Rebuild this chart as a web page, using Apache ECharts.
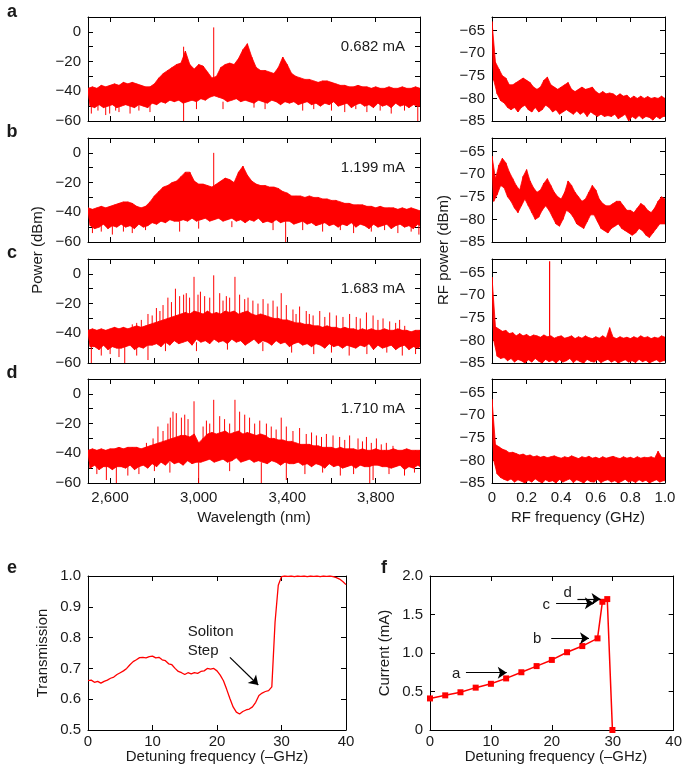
<!DOCTYPE html>
<html><head><meta charset="utf-8">
<script src="https://cdn.jsdelivr.net/npm/echarts@6/dist/echarts.min.js"></script>
<style>html,body{margin:0;padding:0;background:#fff}#c{width:685px;height:774px}</style>
</head><body><div id="c"></div>
<script>
// ---------- optical spectra (wavelength grid 2500..4000 nm, 20 nm) ----------
const WL_START = 2500, WL_STEP = 20;
const upperA = [-38,-37,-38,-36,-37,-36,-35,-36,-34,-35,
  -34,-35,-36,-37,-37,-35,-31,-28,-26,-24,
  -22,-21,-13,-22,-25,-22,-23,-27,-31,-30,
  -24,-22,-21,-22,-18,-12,-8,-17,-24,-26,
  -26,-27,-28,-24,-17,-22,-28,-30,-31,-32,
  -32,-33,-34,-33,-33,-34,-35,-36,-36,-37,
  -37,-36,-37,-37,-38,-37,-38,-38,-37,-38,
  -38,-37,-38,-38,-37,-38];
const lowerA = [-50,-51,-49,-51,-50,-49,-51,-50,-49,-50,
  -51,-49,-50,-51,-48,-49,-47,-48,-46,-47,
  -46,-48,-47,-46,-47,-45,-46,-44,-43,-44,
  -45,-47,-46,-45,-47,-46,-47,-48,-46,-47,
  -48,-46,-47,-49,-47,-48,-47,-49,-48,-47,
  -49,-48,-50,-48,-49,-47,-50,-49,-48,-51,
  -49,-48,-50,-49,-51,-48,-50,-49,-51,-48,
  -50,-49,-51,-49,-50,-50];
const upperB = [-37,-38,-37,-36,-37,-36,-35,-34,-33,-33,
  -34,-36,-37,-36,-33,-29,-26,-23,-22,-20,
  -19,-16,-13,-13,-19,-21,-21,-22,-23,-21,
  -19,-17,-18,-20,-13,-9,-15,-19,-21,-22,
  -22,-23,-23,-24,-26,-27,-29,-29,-29,-30,
  -29,-30,-30,-31,-31,-32,-32,-33,-34,-34,
  -35,-35,-35,-36,-36,-37,-36,-37,-37,-37,
  -38,-37,-38,-37,-38,-39];
const lowerB = [-49,-51,-50,-48,-51,-49,-50,-48,-50,-49,
  -51,-48,-50,-49,-47,-48,-46,-47,-45,-46,
  -46,-45,-46,-44,-46,-45,-44,-46,-45,-44,
  -46,-45,-44,-46,-45,-47,-45,-46,-44,-47,
  -46,-47,-45,-47,-46,-46,-48,-47,-46,-48,
  -47,-49,-48,-47,-49,-48,-50,-48,-49,-47,
  -50,-48,-49,-51,-48,-50,-49,-48,-51,-49,
  -48,-50,-49,-51,-48,-50];
const upperC = [-38,-37,-38,-37,-38,-37,-36,-37,-36,-37,
  -36,-35,-36,-35,-34,-33,-32,-31,-30,-29,
  -28,-27,-26,-27,-25,-26,-27,-25,-27,-26,
  -27,-25,-26,-25,-27,-26,-25,-27,-28,-27,
  -28,-29,-30,-30,-31,-31,-32,-33,-33,-34,
  -34,-35,-35,-36,-35,-36,-36,-37,-36,-37,
  -37,-38,-37,-38,-37,-38,-38,-37,-38,-38,
  -37,-38,-38,-39,-38,-38];
const lowerC = [-49,-49,-51,-48,-51,-49,-50,-50,-49,-48,
  -51,-49,-50,-48,-48,-47,-49,-46,-48,-45,
  -47,-46,-45,-48,-44,-46,-45,-47,-44,-46,
  -45,-47,-44,-46,-45,-48,-46,-44,-47,-45,
  -46,-48,-45,-47,-46,-49,-47,-46,-48,-47,
  -49,-47,-48,-50,-47,-49,-48,-50,-48,-49,
  -50,-48,-49,-47,-51,-48,-50,-49,-48,-51,
  -49,-48,-51,-49,-50,-48];
const upperD = [-38,-37,-38,-37,-38,-37,-37,-36,-37,-36,
  -36,-36,-37,-36,-35,-34,-33,-32,-31,-30,
  -29,-28,-28,-29,-27,-33,-30,-27,-26,-27,
  -26,-25,-27,-26,-25,-27,-26,-27,-28,-27,
  -28,-30,-30,-31,-31,-32,-32,-33,-34,-34,
  -34,-35,-35,-36,-36,-36,-37,-36,-37,-37,
  -37,-38,-37,-38,-38,-37,-38,-38,-38,-37,
  -38,-38,-37,-38,-38,-38];
const lowerD = [-50,-48,-51,-49,-49,-51,-49,-49,-50,-48,
  -51,-49,-48,-50,-47,-49,-46,-48,-45,-47,
  -46,-48,-45,-47,-46,-46,-45,-44,-46,-45,
  -44,-46,-45,-43,-46,-45,-44,-46,-45,-46,
  -47,-45,-46,-48,-46,-47,-47,-46,-48,-47,
  -49,-47,-48,-50,-47,-49,-48,-50,-49,-48,
  -50,-48,-49,-49,-48,-48,-49,-49,-50,-49,
  -48,-51,-49,-50,-48,-50];
// narrow comb lines above the band: [wavelength nm, peak dBm]
const spikesA = [[2932,-10],[3068, 3]];
const spikesB = [[3068, 0]];
const spikesC = [[2700,-34],[2720,-33],[2741,-31],[2771,-27],[2790,-28],[2809,-23],[2825,-25],[2839,-21],[2861,-16],[2877,-19],[2895,-10],[2914,-15],[2932,-14],[2944,-13],[2959,-16],[2979,-2],[2997,-14],[3008,-12],[3027,-15],[3050,-16],[3068,-1],[3095,-13],[3110,-18],[3125,-15],[3140,-16],[3164,-2],[3185,-14],[3208,-17],[3223,-16],[3245,-18],[3268,-20],[3291,-17],[3313,-20],[3336,-18],[3355,-22],[3373,-13],[3396,-21],[3426,-24],[3440,-27],[3456,-22],[3486,-25],[3500,-27],[3517,-28],[3547,-25],[3570,-29],[3592,-26],[3622,-28],[3652,-29],[3682,-27],[3712,-29],[3730,-30],[3758,-26],[3788,-28],[3810,-31],[3833,-30],[3863,-32],[3890,-33],[3908,-31],[3931,-35]];
const spikesD = [[2764,-33],[2794,-30],[2816,-22],[2839,-25],[2861,-20],[2872,-16],[2884,-12],[2899,-13],[2922,-16],[2937,-14],[2952,-17],[2979,-5],[3020,-22],[3035,-18],[3050,-20],[3068,-4],[3095,-15],[3117,-17],[3140,-20],[3164,-4],[3185,-12],[3208,-14],[3230,-16],[3253,-20],[3276,-18],[3306,-20],[3328,-22],[3350,-24],[3373,-16],[3396,-22],[3426,-25],[3456,-23],[3486,-27],[3510,-26],[3532,-28],[3555,-29],[3577,-27],[3607,-28],[3637,-29],[3660,-31],[3682,-28],[3720,-30],[3740,-32],[3758,-29],[3780,-33],[3803,-30],[3825,-34],[3848,-33],[3878,-35]];
const spikeFloors = [-33, -23, -41, -41];
// narrow dips below the band: [wavelength nm, lowest dBm]
const dipsA = [[2515,-55],[2545,-53],[2580,-56],[2598,-55],[2625,-53],[2640,-54],[2690,-55],[2730,-53],[2780,-54],[2932,-60],[2990,-52],[3110,-52],[3250,-51],[3300,-52],[3470,-53],[3520,-52],[3600,-53],[3660,-54],[3710,-52],[3760,-54],[3820,-53],[3870,-55],[3930,-53],[3990,-60]];
const dipsB = [[2520,-54],[2560,-53],[2610,-55],[2660,-53],[2700,-54],[2760,-52],[2914,-53],[3000,-51],[3150,-50],[3336,-52],[3393,-60],[3470,-52],[3560,-53],[3640,-52],[3700,-54],[3780,-53],[3840,-52],[3900,-54],[3960,-53],[3995,-55]];
const dipsC = [[2515,-60],[2560,-55],[2600,-54],[2640,-56],[2666,-60],[2720,-55],[2771,-58],[2850,-52],[2990,-52],[3130,-51],[3290,-52],[3420,-53],[3520,-54],[3600,-53],[3680,-55],[3760,-54],[3850,-53],[3920,-55],[3980,-54]];
const dipsD = [[2540,-54],[2583,-58],[2628,-60],[2680,-55],[2730,-54],[2800,-52],[2870,-53],[3000,-60],[3140,-52],[3283,-60],[3396,-58],[3480,-54],[3560,-53],[3640,-55],[3700,-54],[3773,-60],[3788,-58],[3860,-54],[3930,-55],[3975,-53]];
const dipTops = [-47, -46, -46, -46];
const currents = ['0.682 mA', '1.199 mA', '1.683 mA', '1.710 mA'];

// ---------- RF spectra (0..1 GHz, 0.02 GHz) ----------
const RF_START = 0, RF_STEP = 0.02;
const rfUpperA = [-63,-72,-73.5,-75,-75.5,-77,-77,-76.5,-76,-75.5,
  -76,-76.5,-77.5,-78,-77.5,-76,-75.3,-77,-77.5,-78,
  -77.5,-77,-76.5,-78,-78.5,-78,-77.5,-78,-77.8,-77.5,
  -78.5,-79,-78.5,-79,-78.8,-79,-79.5,-79,-79.5,-79.3,
  -80,-79.5,-80,-79.5,-80,-79.6,-80,-79.8,-80,-79.5,-80];
const rfLowerA = [-76,-79,-80.5,-81,-82,-82.5,-82,-83,-82,-81.5,
  -82.5,-83,-82,-83,-82.5,-81.5,-82,-83,-82.5,-83.5,
  -83,-82.5,-83,-83.5,-82.8,-83.5,-83,-84,-83,-83.5,
  -84,-83.5,-84,-83.8,-84,-83.5,-84.5,-84,-83.5,-85,
  -84,-84.5,-83.8,-84.5,-84,-84.2,-84.8,-84,-84.5,-84,-84];
const rfUpperB = [-66,-71,-68,-66.5,-67.5,-69.5,-71,-72.5,-73.5,-70.5,
  -69,-71.5,-73,-74,-73.5,-72,-71,-72.5,-74,-75,
  -75.5,-74,-71.5,-72.5,-74,-75,-76,-75.5,-74,-72.5,
  -73.5,-75.5,-76.5,-77,-77,-76.5,-76,-76,-77,-78,
  -78,-78.5,-77.5,-76.5,-77,-78,-78.5,-77.5,-76,-75,-75.5];
const rfLowerB = [-76,-74.5,-72.5,-73,-75,-76,-77.5,-78.5,-77,-75.5,
  -77,-78.5,-80,-79.5,-78,-77,-78,-79.5,-81,-81.5,
  -80,-78,-78.5,-79.5,-81,-81.5,-82,-80.5,-79,-79,
  -80.5,-82,-82.5,-83,-82,-81.5,-81,-82,-82.5,-83,
  -83.5,-83,-82,-82.5,-83.5,-84,-83,-82,-81,-81,-81];
const rfUpperC = [-66,-77,-77.5,-78,-77.8,-78.5,-78.3,-79,-78.5,-79,
  -78.7,-79.2,-78.8,-79,-79.3,-78.8,-79.2,-79,-79.5,-79.2,
  -79,-79.5,-79.3,-79,-79.6,-79.2,-79.5,-79,-79.4,-79.6,
  -79.2,-79.5,-79,-79.5,-77.2,-79.3,-79.6,-79.2,-79.5,-79.3,
  -79.6,-79.2,-79.5,-79,-79.4,-79.2,-79.6,-79.3,-79.5,-79,-79.3];
const rfLowerC = [-80,-83.5,-84,-83.8,-84.5,-84,-84.8,-84.2,-84.5,-85,
  -84.3,-84.8,-84,-84.6,-85,-84.2,-84.7,-84.4,-85,-84.3,
  -84.8,-84.5,-84,-84.9,-84.3,-84.7,-85,-84.2,-84.6,-84.8,
  -84.3,-84.9,-84.5,-84.2,-84.8,-84.4,-85,-84.6,-84.3,-84.8,
  -84.5,-84.9,-84.2,-84.7,-84.4,-85,-84.6,-84.3,-84.8,-84.5,-84.5];
const rfUpperD = [-66.5,-76.5,-77,-77.5,-77.8,-78.3,-78.2,-78.5,-78.8,-78.6,
  -79,-78.8,-79.2,-79,-79.3,-79.1,-79.4,-79.2,-79,-79.3,
  -79.5,-79.2,-79.4,-79,-79.3,-79.6,-79.2,-79.4,-79.1,-79.5,
  -79.3,-79.6,-79.2,-79.5,-79.3,-79.1,-79.4,-79.6,-79.2,-79.5,
  -79.3,-79.6,-79.2,-79.5,-79.3,-79.4,-79.2,-79.5,-78,-79.3,-79.4];
const rfLowerD = [-80,-83,-83.8,-84.2,-84.5,-84.1,-84.8,-84.3,-84.6,-85,
  -84.4,-84.8,-84.1,-84.6,-85,-84.3,-84.7,-84.5,-85,-84.2,
  -84.8,-84.4,-84.1,-84.9,-84.3,-84.6,-85,-84.3,-84.7,-84.8,
  -84.2,-84.9,-84.5,-84.3,-84.8,-84.5,-85,-84.6,-84.2,-84.8,
  -84.5,-84.9,-84.3,-84.7,-84.4,-85,-84.6,-84.3,-84.8,-84.5,-84.5];
const rfSpikes = [[], [], [[0.333, -62.5]], []];

// ---------- e: transmission vs detuning (0..40 GHz, 0.5 GHz) ----------
const DET_START = 0, DET_STEP = 0.5;
const transmission = [0.660,0.662,0.655,0.658,0.652,0.658,0.662,0.668,0.672,0.680,
  0.686,0.692,0.700,0.712,0.722,0.728,0.735,0.736,0.734,0.738,
  0.740,0.734,0.736,0.728,0.725,0.715,0.712,0.700,0.690,0.686,
  0.680,0.686,0.682,0.686,0.684,0.690,0.692,0.700,0.698,0.700,
  0.692,0.678,0.660,0.632,0.602,0.575,0.558,0.552,0.560,0.565,
  0.568,0.575,0.590,0.612,0.620,0.625,0.628,0.640,0.850,0.970,
  0.998,1.000,0.999,1.000,0.998,1.000,0.999,1.000,0.998,1.000,
  0.999,1.000,0.998,1.000,0.999,1.000,0.998,0.995,0.990,0.982,0.972];

// ---------- f: current vs detuning ----------
const detuningF = [0, 2.5, 5, 7.5, 10, 12.5, 15, 17.5, 20, 22.5, 25, 27.5, 28.3, 29.1, 29.95];
const currentF  = [0.41, 0.45, 0.49, 0.55, 0.60, 0.67, 0.75, 0.83, 0.91, 1.01, 1.09, 1.19, 1.665, 1.70, 0];

// tick values
const wlTicks = [2600, 2800, 3000, 3200, 3400, 3600, 3800];
const wlLabels = [2600, 3000, 3400, 3800];
const pTicks = [-60, -50, -40, -30, -20, -10, 0];
const pLabels = [-60, -40, -20, 0];
const rfTicks = [0, 0.2, 0.4, 0.6, 0.8, 1.0];
const rfYTicks = [-85, -80, -75, -70, -65];
const detTicks = [0, 10, 20, 30, 40];
const trTicks = [0.5, 0.6, 0.7, 0.8, 0.9, 1.0];
const curTicks = [0, 0.5, 1.0, 1.5, 2.0];

// ---------- build ----------
const RED = '#ff0000';
const FONT = '"Liberation Sans", Arial, Helvetica, sans-serif';
const TXT = '#1a1a1a';
const minus = s => String(s).replace('-', '\u2212');
const fmtWl = v => String(v).replace(/\B(?=(\d{3})+(?!\d))/g, ',');
const fmtDec = v => v === 0 ? '0' : v.toFixed(1);

// filled noise band between upper/lower envelopes, placed via the axis scales
function bandSeries(up, lo, x0, step, axisIdx) {
  return {
    type: 'custom', xAxisIndex: axisIdx, yAxisIndex: axisIdx, silent: true, clip: true,
    data: [[x0, up[0]]],
    renderItem: (params, api) => {
      const pts = [];
      for (let i = 0; i < up.length; i++) {
        pts.push(api.coord([x0 + i * step, up[i]]));
        pts.push(api.coord([x0 + i * step + step / 2, lo[i]]));
      }
      const poly = [];
      for (let i = 0; i < up.length; i++) poly.push(api.coord([x0 + i * step, up[i]]));
      for (let i = lo.length - 1; i >= 0; i--) poly.push(api.coord([x0 + i * step + step / 2, lo[i]]));
      return {type: 'group', children: [
        {type: 'polygon', shape: {points: poly}, style: {fill: RED, stroke: RED, lineWidth: 0.8}},
        {type: 'polyline', shape: {points: pts}, style: {fill: null, stroke: RED, lineWidth: 1}}
      ]};
    }
  };
}
function spikeLines(sp, floor) {
  const d = [];
  sp.forEach(s => { d.push([s[0], floor]); d.push([s[0], s[1]]); d.push([s[0], '-']); });
  return d;
}

const grids = [], xAxes = [], yAxes = [], series = [];
const leftTops = [17, 138, 259, 379];
leftTops.forEach(t => grids.push({left: 88, top: t, width: 332, height: 104}));
leftTops.forEach(t => grids.push({left: 492, top: t, width: 173, height: 104}));
grids.push({left: 88, top: 576, width: 258, height: 154});
grids.push({left: 430, top: 576, width: 250, height: 154});

function addAxes(g, xc, yc) {
  const line = {show: true, onZero: false, lineStyle: {color: '#000', width: 1}};
  const tick = vals => ({show: true, inside: true, length: 5, customValues: vals, lineStyle: {color: '#000', width: 1}});
  const lab = (show, vals, fmt, m) => ({show, customValues: vals, formatter: fmt, fontSize: 15, color: TXT, fontFamily: FONT, margin: m});
  ['bottom', 'top'].forEach((pos, k) => xAxes.push({
    type: 'value', gridIndex: g, position: pos, min: xc.min, max: xc.max,
    axisLine: line, axisTick: tick(xc.ticks), splitLine: {show: false},
    axisLabel: lab(k === 0 && xc.show, xc.labels, xc.fmt, xc.margin || 7)
  }));
  ['left', 'right'].forEach((pos, k) => yAxes.push({
    type: 'value', gridIndex: g, position: pos, min: yc.min, max: yc.max,
    axisLine: line, axisTick: tick(yc.ticks), splitLine: {show: false},
    axisLabel: lab(k === 0, yc.labels, yc.fmt, 7)
  }));
}
const thinLines = (ai, data, w) => ({type: 'line', xAxisIndex: ai, yAxisIndex: ai, data,
  showSymbol: false, symbol: 'none', connectNulls: false, lineStyle: {color: RED, width: w}, silent: true});

const ups = [upperA, upperB, upperC, upperD], los = [lowerA, lowerB, lowerC, lowerD];
const sps = [spikesA, spikesB, spikesC, spikesD], dps = [dipsA, dipsB, dipsC, dipsD];
for (let p = 0; p < 4; p++) {
  addAxes(p, {min: 2500, max: 4000, ticks: wlTicks, labels: wlLabels, fmt: fmtWl, show: p === 3},
             {min: -60, max: 10, ticks: pTicks, labels: pLabels, fmt: minus});
  series.push(bandSeries(ups[p], los[p], WL_START, WL_STEP, 2 * p));
  series.push(thinLines(2 * p, spikeLines(sps[p], spikeFloors[p]), 1));
  series.push(thinLines(2 * p, spikeLines(dps[p], dipTops[p]), 1));
}
const rfUps = [rfUpperA, rfUpperB, rfUpperC, rfUpperD], rfLos = [rfLowerA, rfLowerB, rfLowerC, rfLowerD];
for (let p = 0; p < 4; p++) {
  const g = 4 + p;
  addAxes(g, {min: 0, max: 1, ticks: rfTicks, labels: rfTicks, fmt: fmtDec, show: p === 3},
             {min: -85, max: -62, ticks: rfYTicks, labels: rfYTicks, fmt: minus});
  series.push(bandSeries(rfUps[p], rfLos[p], RF_START, RF_STEP, 2 * g));
  series.push(thinLines(2 * g, spikeLines(rfSpikes[p], -80), 1.2));
}
// e
addAxes(8, {min: 0, max: 40, ticks: detTicks, labels: detTicks, fmt: v => String(v), show: true, margin: 4},
           {min: 0.5, max: 1.0, ticks: trTicks, labels: trTicks, fmt: v => v.toFixed(1)});
series.push({type: 'line', xAxisIndex: 16, yAxisIndex: 16,
  data: transmission.map((v, i) => [DET_START + i * DET_STEP, v]),
  showSymbol: false, symbol: 'none', lineStyle: {color: RED, width: 1.3}, silent: true,
  markLine: {silent: true, symbol: ['none', 'arrow'], symbolSize: 9, label: {show: false},
    lineStyle: {color: '#000', width: 1.2, type: 'solid'},
    data: [[{coord: [22.0, 0.736]}, {coord: [26.4, 0.646]}]]}});
series.push({type: 'scatter', xAxisIndex: 16, yAxisIndex: 16, symbolSize: 0, silent: true,
  itemStyle: {opacity: 1},
  data: [[15.45, 0.789]],
  label: {show: true, position: 'right', distance: 0, formatter: 'Soliton\nStep', align: 'left', verticalAlign: 'middle',
    fontSize: 15, lineHeight: 19, color: TXT, fontFamily: FONT, textBorderWidth: 0}});
// f
addAxes(9, {min: 0, max: 40, ticks: detTicks, labels: detTicks, fmt: v => String(v), show: true, margin: 4},
           {min: 0, max: 2, ticks: curTicks, labels: curTicks, fmt: fmtDec});
const arrowPairs = [[[5.9, 0.744], [12.6, 0.744]], [[19.9, 1.19], [26.1, 1.19]], [[20.7, 1.645], [26.9, 1.645]], [[24.2, 1.70], [28.0, 1.70]]];
series.push({type: 'line', xAxisIndex: 18, yAxisIndex: 18,
  data: detuningF.map((x, i) => [x, currentF[i]]),
  symbol: 'rect', symbolSize: 6, showSymbol: true, itemStyle: {color: RED}, lineStyle: {color: RED, width: 1.5}, silent: true,
  markLine: {silent: true, symbol: ['none', 'arrow'], symbolSize: 9, label: {show: false},
    lineStyle: {color: '#000', width: 1.2, type: 'solid'},
    data: arrowPairs.map(p => [{coord: p[0]}, {coord: p[1]}])}});
series.push({type: 'scatter', xAxisIndex: 18, yAxisIndex: 18, symbolSize: 0, silent: true,
  itemStyle: {opacity: 1},
  data: [[4.3, 0.727, 'a'], [17.6, 1.18, 'b'], [19.1, 1.63, 'c'], [22.6, 1.78, 'd']],
  label: {show: true, position: 'inside', formatter: p => p.value[2], fontSize: 15, color: TXT, fontFamily: FONT, textBorderWidth: 0}});

const gtext = (x, y, text, o = {}) => Object.assign({type: 'text', x, y, rotation: o.rot || 0, silent: true,
  style: {text, fill: TXT, font: (o.bold ? 'bold ' : '') + (o.size || 15) + 'px ' + FONT,
    textAlign: o.align || 'center', textVerticalAlign: 'middle'}});
const graphic = [
  gtext(12, 12, 'a', {bold: true, size: 18}), gtext(12, 132, 'b', {bold: true, size: 18}),
  gtext(12, 253, 'c', {bold: true, size: 18}), gtext(12, 373, 'd', {bold: true, size: 18}),
  gtext(12, 568, 'e', {bold: true, size: 18}), gtext(384, 568, 'f', {bold: true, size: 18}),
  gtext(38, 250, 'Power (dBm)', {rot: Math.PI / 2}),
  gtext(444, 250, 'RF power (dBm)', {rot: Math.PI / 2}),
  gtext(254, 518, 'Wavelength (nm)'),
  gtext(578, 518, 'RF frequency (GHz)'),
  gtext(43, 653, 'Transmission', {rot: Math.PI / 2}),
  gtext(385, 653, 'Current (mA)', {rot: Math.PI / 2}),
  gtext(217, 757, 'Detuning frequency (\u2013GHz)'),
  gtext(556, 757, 'Detuning frequency (\u2013GHz)')
];
leftTops.forEach((t, i) => graphic.push(gtext(405, t + 30, currents[i], {align: 'right'})));

const chart = echarts.init(document.getElementById('c'), null, {renderer: 'canvas'});
chart.setOption({
  animation: false, backgroundColor: '#fff',
  textStyle: {fontFamily: FONT},
  grid: grids, xAxis: xAxes, yAxis: yAxes, series, graphic
});
</script></body></html>
